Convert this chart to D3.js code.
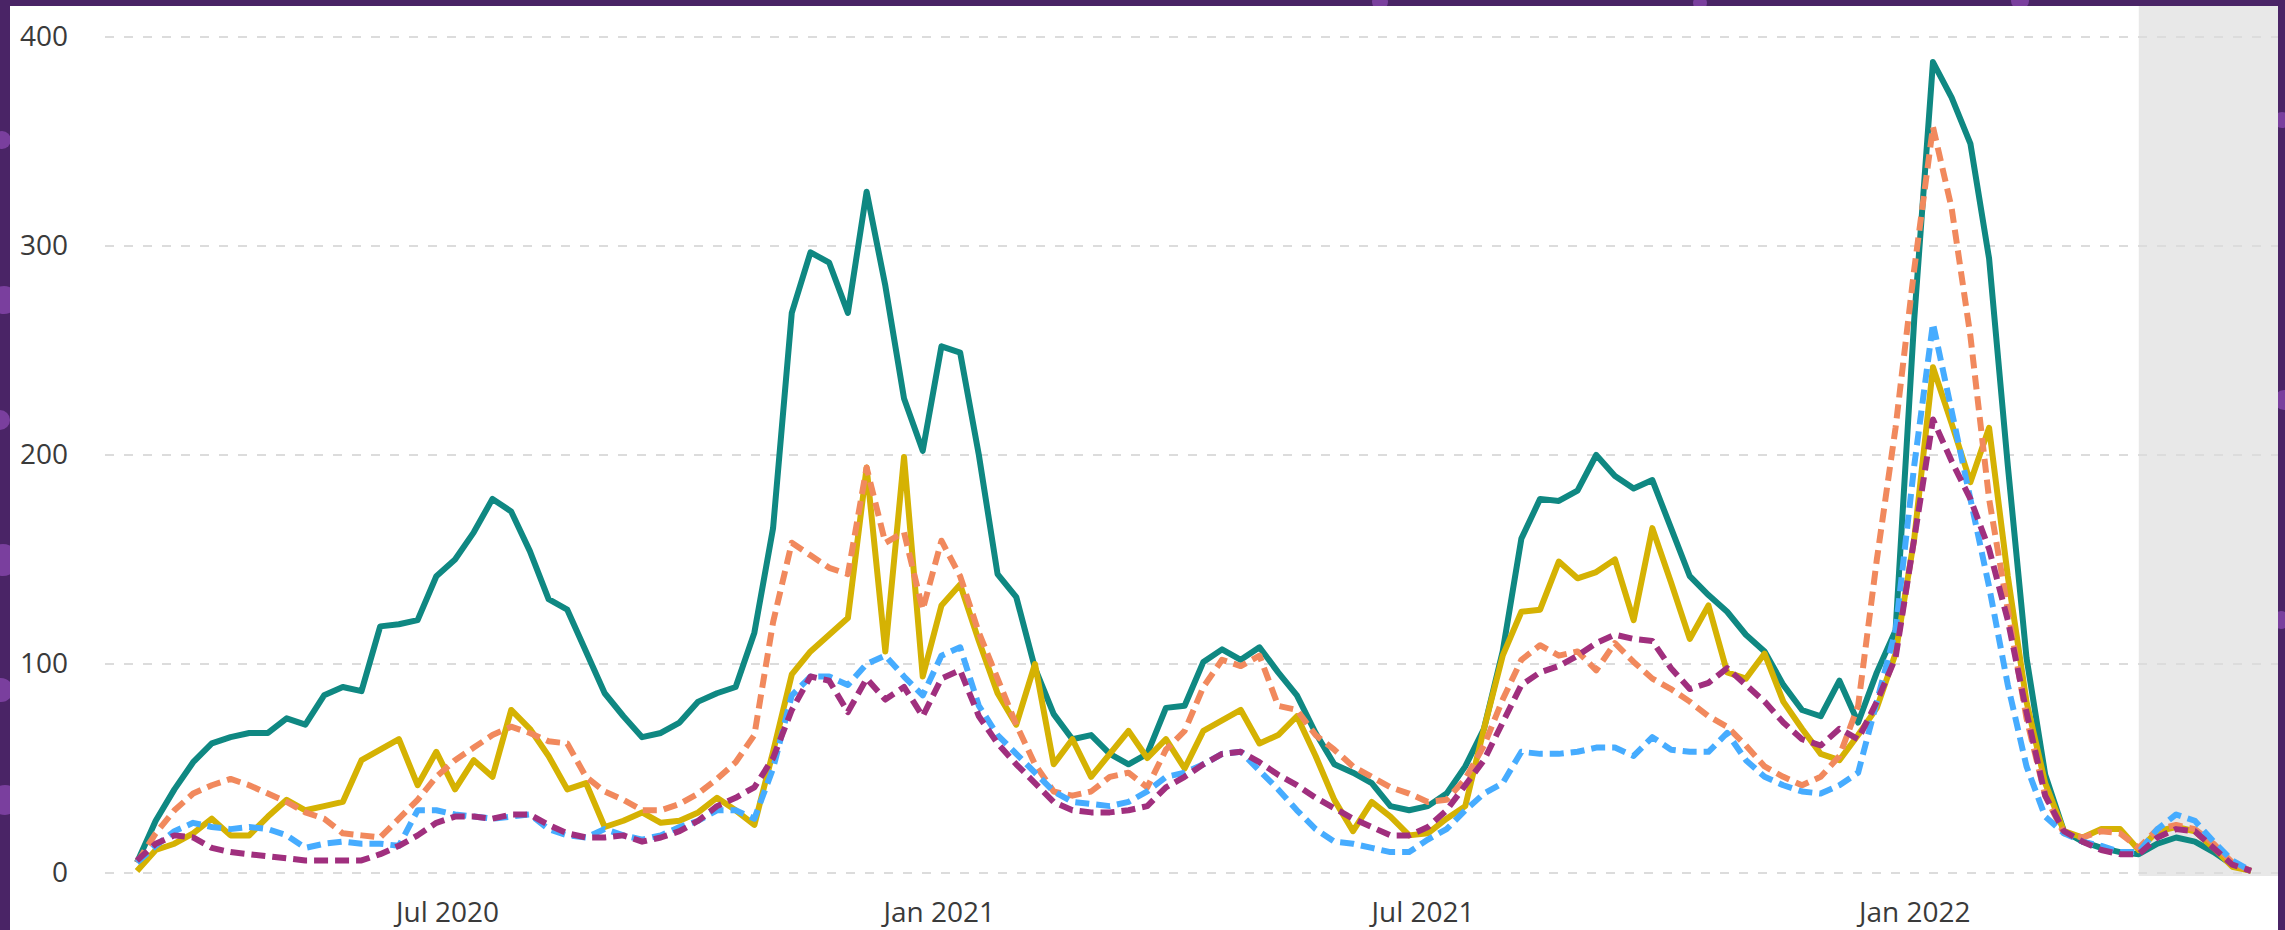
<!DOCTYPE html>
<html>
<head>
<meta charset="utf-8">
<script src="https://cdn.jsdelivr.net/npm/d3@7/dist/d3.min.js"></script>
<style>
    body { margin: 0; background: #4a2466; overflow: hidden; }
    .axis text { font-family: "Open Sans", sans-serif; font-size: 28px; fill: #3a3a3a; }
</style>
</head>
<body>
<script>

//svg size
var w = 2285, h = 930;

//weekly rates, first week ending 2020-03-07
var firstWeek = "2020-03-07";
var shadeFrom = "2022-03-26"; //start of the grey (preliminary) weeks

var tealRate = [5,25,40,53,62,65,67,67,74,71,
    85,89,87,118,119,121,142,150,163,179,
    173,154,131,126,106,86,75,65,67,72,
    82,86,89,115,165,268,297,292,268,326,
    281,227,202,252,249,200,143,132,98,76,
    64,66,57,52,57,79,80,101,107,102,
    108,96,85,67,52,48,43,32,30,32,
    38,51,69,106,160,179,178,183,200,190,
    184,188,165,142,133,125,114,106,90,78,
    75,92,72,96,116,265,388,371,349,294,
    195,103,47,20,15,12,10,9,14,17,
    15,10,4,1];

var orangeRate = [5,19,30,38,42,45,42,38,34,29,
    26,19,18,17,26,35,46,54,60,66,
    70,67,63,62,46,39,35,30,30,33,
    38,45,53,66,120,158,152,146,143,194,
    158,163,126,159,142,115,93,71,52,39,
    37,39,46,48,41,59,68,89,102,99,
    104,80,78,66,59,51,46,41,38,34,
    35,45,61,83,102,109,104,106,97,110,
    101,93,88,82,75,70,61,51,46,42,
    46,56,80,150,213,289,357,318,257,179,
    126,74,37,19,17,20,19,12,21,23,
    21,14,5,1];

var goldRate = [1,11,14,19,26,18,18,27,35,30,
    32,34,54,59,64,42,58,40,54,46,
    78,69,56,40,43,22,25,29,24,25,
    29,36,30,23,58,95,106,114,122,194,
    106,199,94,128,138,111,86,71,100,52,
    64,46,57,68,55,64,50,68,73,78,
    62,66,75,56,35,20,34,27,18,19,
    26,32,69,104,125,126,149,141,144,150,
    121,165,139,112,128,96,93,105,82,69,
    57,54,66,79,105,160,242,215,187,213,
    142,82,43,20,17,21,21,11,20,22,
    20,12,3,1];

var blueRate = [5,13,20,24,22,21,22,21,18,12,
    14,15,14,14,13,30,30,28,27,26,
    27,28,21,18,17,21,18,16,18,22,
    25,30,30,26,50,85,94,94,90,100,
    104,94,85,104,108,80,66,57,48,39,
    34,33,32,34,39,46,48,52,57,58,
    49,40,30,21,15,14,12,10,10,16,
    21,30,38,43,58,57,57,58,60,60,
    56,65,59,58,58,67,54,46,42,39,
    38,42,48,82,116,195,263,221,179,137,
    90,51,27,19,15,13,10,10,21,28,
    25,15,6,1];

var purpleRate = [6,14,18,17,12,10,9,8,7,6,
    6,6,6,9,13,18,24,27,27,26,
    28,28,23,19,17,17,18,15,17,20,
    25,32,36,41,55,78,94,92,77,93,
    83,89,75,93,97,75,62,52,43,34,
    30,29,29,30,32,41,46,52,57,58,
    53,47,42,36,31,26,22,18,18,22,
    30,42,54,72,90,96,99,104,110,114,
    112,111,98,88,91,98,90,82,72,64,
    61,69,64,82,103,160,217,197,179,155,
    121,77,37,20,15,11,9,9,17,21,
    20,12,4,1];

var yTicks = [0, 100, 200, 300, 400];

window.onload = function(){

    var parse = d3.timeParse("%Y-%m-%d");
    var start = parse(firstWeek);
    var weeks = tealRate.map(function(d, i){
        return d3.timeWeek.offset(start, i);
    });

    //drawing order, bottom to top
    var series = [
        {values: tealRate, color: "#0f8882", dash: null},
        {values: goldRate, color: "#d5b203", dash: null},
        {values: orangeRate, color: "#f1895d", dash: "14,7"},
        {values: blueRate, color: "#46acff", dash: "14,7"},
        {values: purpleRate, color: "#a02f7e", dash: "14,7"}
    ];

    var svg = d3.select("body")
        .append("svg")
        .attr("width", w)
        .attr("height", h);

    //purple frame with a few lighter spots
    svg.append("rect")
        .attr("width", w)
        .attr("height", h)
        .style("fill", "#4a2466");

    var spots = [[2, 140, 9], [4, 300, 14], [0, 420, 10], [3, 560, 16], [1, 690, 12], [5, 800, 15],
        [2282, 120, 8], [2284, 400, 10], [2281, 620, 9], [1380, 2, 8], [1700, 3, 7], [2020, 1, 9]];
    svg.selectAll(".spot")
        .data(spots)
        .enter()
        .append("circle")
        .attr("class", "spot")
        .attr("cx", function(d){ return d[0]; })
        .attr("cy", function(d){ return d[1]; })
        .attr("r", function(d){ return d[2]; })
        .style("fill", "#7a3f9e");

    //white chart panel
    var panel = {left: 10, top: 6, right: 2278};
    svg.append("rect")
        .attr("x", panel.left)
        .attr("y", panel.top)
        .attr("width", panel.right - panel.left)
        .attr("height", h - panel.top)
        .style("fill", "#ffffff");

    var x = d3.scaleTime()
        .domain([weeks[0], weeks[weeks.length - 1]])
        .range([137, 2251]);

    var y = d3.scaleLinear()
        .domain([0, 400])
        .range([873, 37]);

    //grey block for the last weeks
    svg.append("rect")
        .attr("x", x(parse(shadeFrom)))
        .attr("y", panel.top)
        .attr("width", panel.right - x(parse(shadeFrom)))
        .attr("height", y(0) + 3 - panel.top)
        .style("fill", "#e8e8e8");

    //dashed grid
    svg.selectAll(".grid")
        .data(yTicks)
        .enter()
        .append("line")
        .attr("class", "grid")
        .attr("x1", 105)
        .attr("x2", panel.right)
        .attr("y1", function(d){ return y(d); })
        .attr("y2", function(d){ return y(d); })
        .style("stroke", "#dcdcdc")
        .style("stroke-width", 2)
        .style("stroke-dasharray", "9,10");

    var yAxis = d3.axisLeft(y)
        .tickValues(yTicks)
        .tickSize(0)
        .tickPadding(0);

    svg.append("g")
        .attr("class", "axis")
        .attr("transform", "translate(68,0)")
        .call(yAxis)
        .call(function(g){ g.select(".domain").remove(); });

    var xAxis = d3.axisBottom(x)
        .ticks(d3.timeMonth.every(6))
        .tickFormat(d3.timeFormat("%b %Y"))
        .tickSize(0)
        .tickPadding(29);

    svg.append("g")
        .attr("class", "axis")
        .attr("transform", "translate(0," + y(0) + ")")
        .call(xAxis)
        .call(function(g){ g.select(".domain").remove(); });

    var line = d3.line()
        .x(function(d, i){ return x(weeks[i]); })
        .y(function(d){ return y(d); });

    svg.selectAll(".rate")
        .data(series)
        .enter()
        .append("path")
        .attr("class", "rate")
        .attr("d", function(d){ return line(d.values); })
        .style("fill", "none")
        .style("stroke", function(d){ return d.color; })
        .style("stroke-width", 6)
        .style("stroke-linejoin", "round")
        .style("stroke-dasharray", function(d){ return d.dash; });
};

</script>
</body>
</html>
